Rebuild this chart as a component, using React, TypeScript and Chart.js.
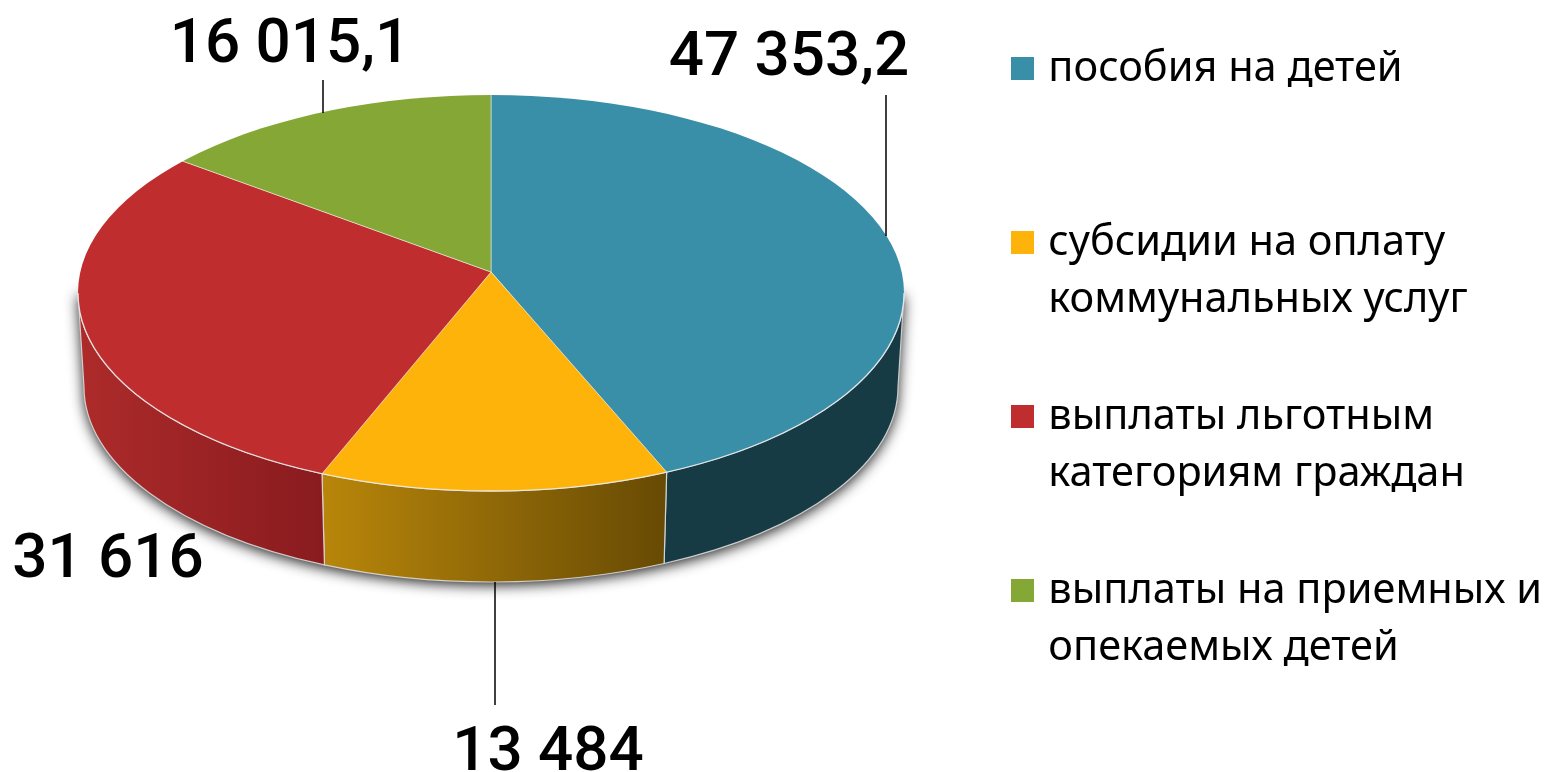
import React, { useEffect, useRef } from "react";
import { Chart, registerables } from "chart.js";

Chart.register(...registerables);

const categories = [
  ["пособия на детей", ""],
  ["субсидии на оплату", "коммунальных услуг"],
  ["выплаты льготным", "категориям граждан"],
  ["выплаты на приемных и", "опекаемых детей"],
];
const values = [47353.2, 13484, 31616, 16015.1];
const valueLabels = ["47 353,2", "13 484", "31 616", "16 015,1"];
const topColors = ["#3a8fa8", "#fdb309", "#c02d2e", "#85a735"];
const wallFrom = ["#173b45", "#b8860a", "#ad2b2a", "#5f7a26"];
const wallTo = ["#173b45", "#674a04", "#891b1f", "#5f7a26"];

// 3D projection of the flat pie
const APEX = { x: 491, y: 272 };
const SQUASH = 0.48;
const TOP = { x: 491, y: 293, rx: 413, ry: 198 };
const BOTTOM = { x: 491, y: 387, rx: 407, ry: 195 };
const MARKER = 23;

// label anchors and leader lines per value label
const LABEL_LAYOUT = [
  { x: 789, y: 75, line: [886, 95, 886, 236] },
  { x: 548, y: 770, line: [495, 582, 495, 705] },
  { x: 108, y: 577, line: null },
  { x: 290, y: 62, line: [323, 80, 323, 113] },
];

function edgeParam(angle: number) {
  const dx = Math.cos(angle);
  const dy = SQUASH * Math.sin(angle);
  const ox = (APEX.x - TOP.x) / TOP.rx;
  const oy = (APEX.y - TOP.y) / TOP.ry;
  const vx = dx / TOP.rx;
  const vy = dy / TOP.ry;
  const a = vx * vx + vy * vy;
  const b = 2 * (ox * vx + oy * vy);
  const c = ox * ox + oy * oy - 1;
  const s = (-b + Math.sqrt(b * b - 4 * a * c)) / (2 * a);
  return Math.atan2(oy + vy * s, ox + vx * s);
}

function wallSpan(start: number, end: number) {
  const t0 = edgeParam(start);
  let t1 = edgeParam(end);
  if (t1 < t0) t1 += Math.PI * 2;
  return [Math.max(t0, 0), Math.min(t1, Math.PI)];
}

function markerImage(color: string) {
  const c = document.createElement("canvas");
  c.width = MARKER;
  c.height = MARKER;
  const g = c.getContext("2d")!;
  g.fillStyle = color;
  g.fillRect(0, 0, MARKER, MARKER);
  return c;
}

const pie3d = {
  id: "pie3d",
  beforeDatasetDraw(chart: any, args: any) {
    const ctx = chart.ctx;
    const arcs = args.meta.data;

    // drop shadow of the whole drum
    ctx.save();
    ctx.shadowColor = "rgba(0,0,0,0.9)";
    ctx.shadowBlur = 14;
    ctx.shadowOffsetY = 3;
    ctx.fillStyle = "#777";
    ctx.beginPath();
    ctx.ellipse(BOTTOM.x, BOTTOM.y, BOTTOM.rx, BOTTOM.ry, 0, 0, Math.PI);
    ctx.lineTo(TOP.x - TOP.rx, TOP.y);
    ctx.lineTo(TOP.x + TOP.rx, TOP.y);
    ctx.closePath();
    ctx.fill();
    ctx.restore();

    // side wall for each slice that faces the viewer
    arcs.forEach((arc: any, i: number) => {
      const [t0, t1] = wallSpan(arc.startAngle, arc.endAngle);
      if (t1 <= t0) return;
      const xa = TOP.x + TOP.rx * Math.cos(t1);
      const xb = TOP.x + TOP.rx * Math.cos(t0);
      const grad = ctx.createLinearGradient(xa, 0, xb, 0);
      grad.addColorStop(0, wallFrom[i]);
      grad.addColorStop(1, wallTo[i]);
      ctx.beginPath();
      ctx.ellipse(TOP.x, TOP.y, TOP.rx, TOP.ry, 0, t0, t1);
      ctx.ellipse(BOTTOM.x, BOTTOM.y, BOTTOM.rx, BOTTOM.ry, 0, t1, t0, true);
      ctx.closePath();
      ctx.fillStyle = grad;
      ctx.fill();
      ctx.strokeStyle = "rgba(225,225,225,0.85)";
      ctx.lineWidth = 1.2;
      ctx.stroke();
    });

    // top face: the flat pie, squashed and cut by the rim ellipse
    ctx.save();
    ctx.beginPath();
    ctx.ellipse(TOP.x, TOP.y, TOP.rx, TOP.ry, 0, 0, Math.PI * 2);
    ctx.clip();
    const c = arcs[0];
    ctx.translate(APEX.x, APEX.y);
    ctx.scale(1, SQUASH);
    ctx.translate(-c.x, -c.y);
  },
  afterDatasetDraw(chart: any) {
    const ctx = chart.ctx;
    ctx.restore();
    ctx.beginPath();
    ctx.ellipse(TOP.x, TOP.y, TOP.rx, TOP.ry, 0, 0, Math.PI);
    ctx.strokeStyle = "rgba(235,235,235,0.9)";
    ctx.lineWidth = 1.3;
    ctx.stroke();
  },
  afterDraw(chart: any) {
    const ctx = chart.ctx;
    ctx.save();
    ctx.strokeStyle = "#000";
    ctx.lineWidth = 1.5;
    ctx.fillStyle = "#000";
    ctx.font = "500 62px Roboto, sans-serif";
    ctx.textAlign = "center";
    ctx.textBaseline = "alphabetic";
    valueLabels.forEach((label, i) => {
      const l = LABEL_LAYOUT[i];
      ctx.fillText(label, l.x, l.y);
      if (l.line) {
        ctx.beginPath();
        ctx.moveTo(l.line[0], l.line[1]);
        ctx.lineTo(l.line[2], l.line[3]);
        ctx.stroke();
      }
    });
    ctx.restore();
  },
};

export default function App() {
  const ref = useRef<HTMLCanvasElement>(null);
  useEffect(() => {
    const chart = new Chart(ref.current!, {
      type: "pie",
      plugins: [pie3d],
      data: {
        labels: categories.map((c) => c.join(" ").trim()),
        datasets: [
          {
            data: values,
            backgroundColor: topColors,
            borderColor: "rgba(255,255,255,0.65)",
            borderWidth: 1,
            radius: 520,
            clip: false,
          } as any,
        ],
      },
      options: {
        animation: false,
        responsive: false,
        rotation: 0,
        layout: { padding: { top: -12, right: 9, left: 0, bottom: 0 } },
        plugins: {
          tooltip: { enabled: false },
          legend: {
            position: "right",
            align: "start",
            labels: {
              boxWidth: MARKER,
              boxHeight: MARKER,
              usePointStyle: true,
              pointStyleWidth: 11,
              padding: 60,
              color: "#000",
              font: { family: "'Noto Sans', sans-serif", size: 41.5, lineHeight: 57 / 41.5 },
              generateLabels: () =>
                categories.map((c, i) => ({
                  text: c,
                  fillStyle: topColors[i],
                  strokeStyle: topColors[i],
                  pointStyle: markerImage(topColors[i]),
                  lineWidth: 0,
                  hidden: false,
                  index: i,
                })),
            },
          },
        },
      },
    });
    return () => chart.destroy();
  }, []);
  return (
    <canvas
      ref={ref}
      width={1561}
      height={772}
      style={{ position: "absolute", left: 0, top: 0, display: "block" }}
    />
  );
}
